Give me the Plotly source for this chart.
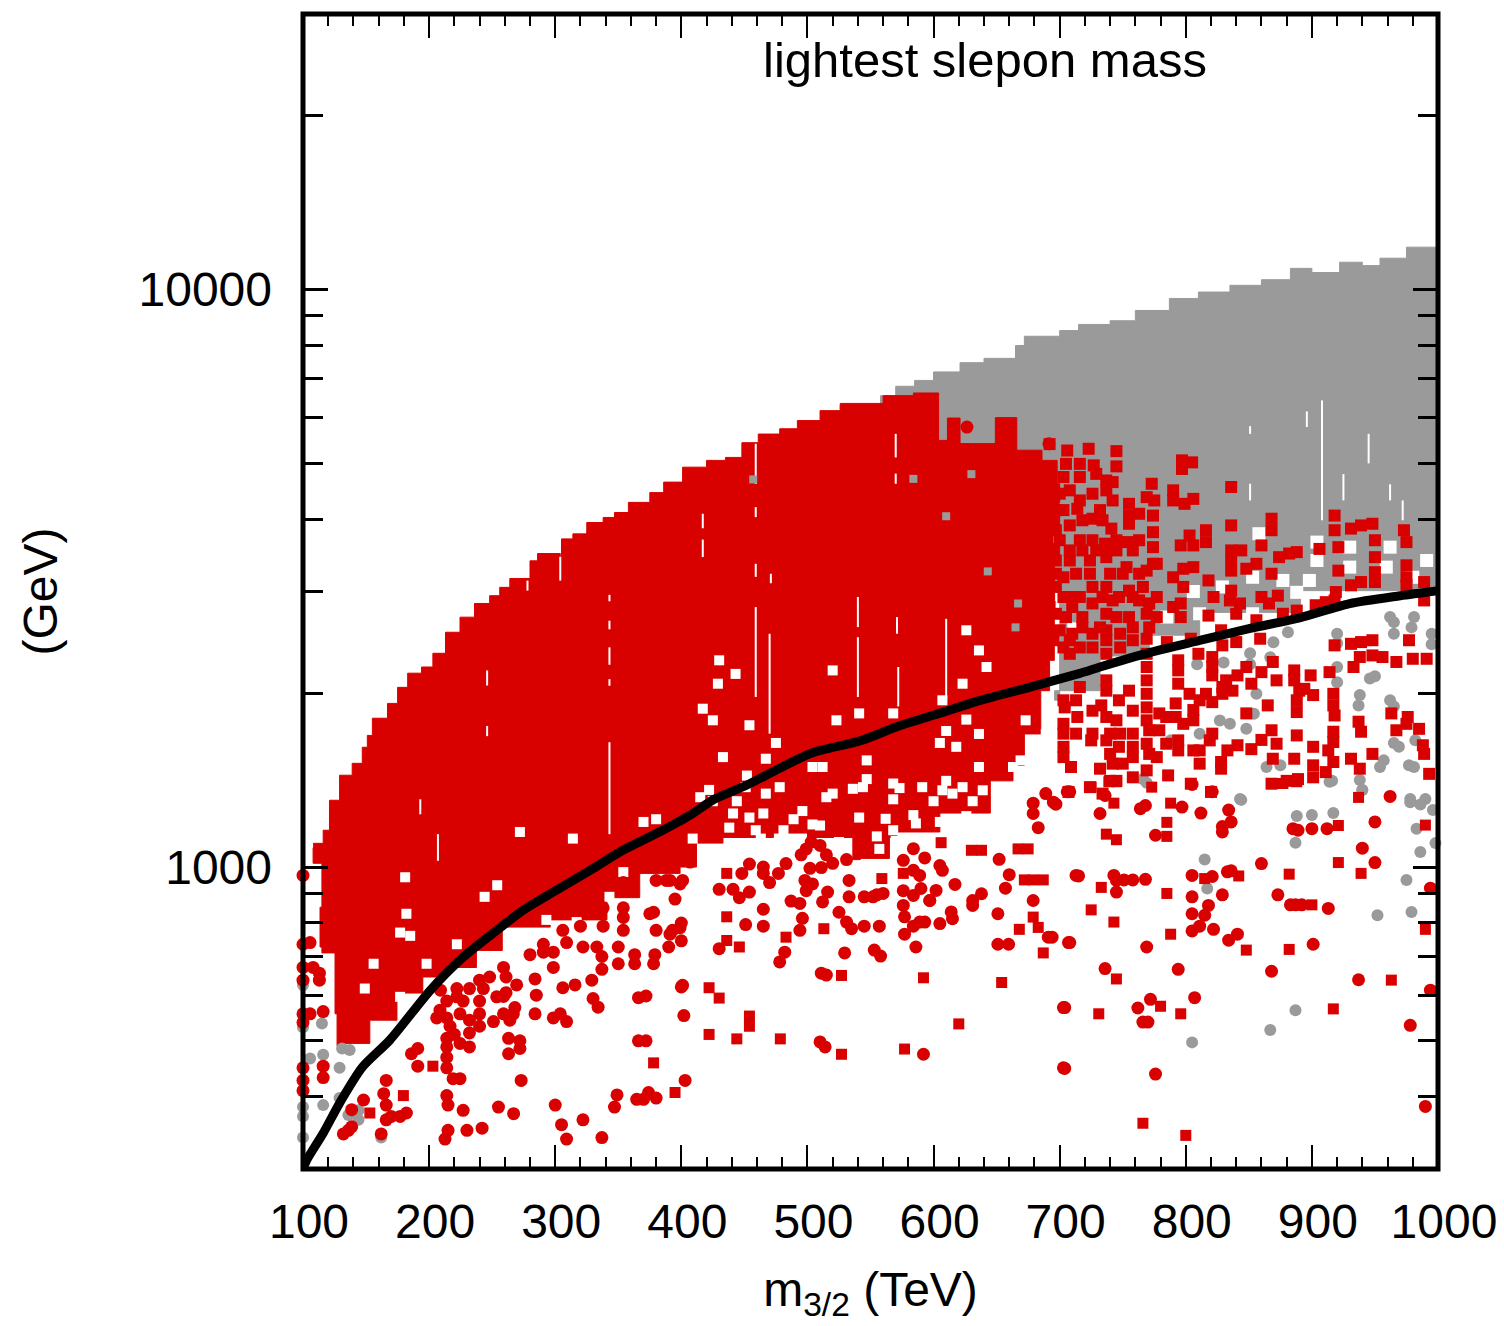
import plotly.graph_objects as go

RED = "#d90000"
GRAY = "#9a9a9a"

# --- black curve ---
curve_x = [100,103,116,129,147,169,201,227,254,274.5,301,328,354,381,407,425,452,478,504,542,573,605,637,676,716,732,772,811,851,891,930,970,1000]
curve_y = [300,311,346,390,450,502,612,698,778,842,912,988,1070,1145,1230,1306,1387,1483,1577,1654,1756,1846,1943,2047,2165,2220,2353,2468,2589,2704,2859,2950,3010]

# --- outline of the saturated gray band ---
gray_band_x = [526,558,570,585,600,621,640,665,672,700,715,740,760,787,810,835,860,883,900,922,940,954,975,1000,1000,891,811,771,732,696,700,620,526]
gray_band_y = [6300,6550,6800,6960,7200,7470,7600,8000,8300,8490,8700,8830,9200,9650,9900,10170,10400,10880,10700,11150,11000,11330,11840,11840,3010,2760,2520,2320,2020,1945,3000,5000,6300]

# --- outline of the saturated red band ---
red_band_x = [108,116,121,129,139,147,151,155,167,175,183,194,203,213,224.5,236,248,256,264,280,286,304,305,314,325,338,347,358,375,386,401,420,435,448,461,478,492,510,526,560,584,604,604,611,611,619.5,621,631,649,663,666,686,698,700,696,692,685,672,663,645,605,571,565,542,536,500,473,433,412,399,367,341,296,258,237.5,214,195,174.5,153,129,127,125.4,115,113.5,115,108]
red_band_y = [1099,1158,1305,1442,1512,1612,1690,1810,1920,2047,2166,2220,2345,2550,2708,2860,2950,3050,3160,3390,3490,3445,3700,3775,3950,4030,4110,4280,4450,4640,4925,5060,5120,5430,5620,5740,5930,6170,6350,6550,6620,6170,5480,5410,5990,5990,5410,5410,6000,6000,5270,5060,4610,3390,2280,2020,1700,1500,1410,1240,1150,1125,1035,1030,1125,1145,1125,1100,1000,975,885,810,787,717,670,645,605,543,495,490,557,710,727,852,1015,1080]

# --- unpopulated pockets inside the bands ---
hole_x = [584,586,515,496,478,525,425,415,444,467,465,544,568,631,615,600,663,652,650,626,605,562,555,557,570,409,438,510,481,459,
          454,475,467,636,626,607,610,623,642,695,697,710,626,636,673,689,547,573,610,512,523,541,568,425,417,433,452,422,605,705,663,636,618,689,504,547,520,429,443,520,430,
          181,182,185,177,222,254,244,198,156,149,177,343,354,317,301,293,370,380,272,314,
          441,451,454,463,489,504,536,541,568,568,607,591,623,639,639,663,676,692,669]
hole_y = [1230,1190,1321,1250,1375,1105,1300,1321,1300,1340,1238,1375,1395,1300,1340,1300,1238,1358,1158,1225,1197,1212,1130,1075,1110,1120,1170,1180,1158,1158,
          1760,1640,1540,2372,2570,1944,1720,2077,2220,2470,2745,2600,1800,1700,1795,1700,1420,1370,1410,1490,1795,1845,1845,1795,1880,1550,1440,1360,1640,1375,1490,1490,1615,1410,1490,1530,1340,2077,2160,2190,2280,
          960,830,760,770,735,930,888,680,680,616,596,888,980,803,777,810,1197,1210,1150,1120,
          1238,1375,1218,1120,1210,1185,1366,1218,1310,1158,1358,1375,1375,1358,1197,1321,1375,1412,1530]

# --- larger pockets where the gray band breaks up near the curve ---
big_hole_x = [829,853,877,888,904,898,930,930,959,962,991,980,806,785,811,853,858,898,956,904]
big_hole_y = [3055,3175,3135,2990,3395,3135,3306,3580,3306,3580,3395,3175,3000,2709,2745,2745,3777,2860,2895,3653]

# --- thin vertical gaps (value pairs, None between) ---
gap_x = [459,459,None,540,540,None,540,540,None,470,470,None,610,610,None,572,572,None,571,571,None,697,697,None,459,459,None,459,459,None,471,471,None,417,417,None,417,417,None,459,459,None,570,570,None,570,570,None,
         343,343,None,343,343,None,343,343,None,343,343,None,343,343,None,304,304,None,246,246,None,246,246,None,278,278,None,207,207,None,193,193,None,
         908,908,None,925,925,None,962,962,None,945,945,None,896,896,None,851,851,None,972,972,None,851,851]
gap_y = [2819,1970,None,2935,2603,None,2500,1970,None,2535,1702,None,2690,1944,None,2220,1897,None,2709,2535,None,2819,2220,None,4200,4035,None,3350,3180,None,3220,3100,None,4090,3860,None,3690,3441,None,5406,4609,None,5625,5120,None,4800,4609,None,
         2960,2885,None,2670,2580,None,2401,2240,None,2115,2060,None,1645,1140,None,3445,3133,None,2190,2062,None,1755,1685,None,3133,3010,None,1140,1025,None,1310,1234,None,
         6427,3985,None,4790,4313,None,4600,4313,None,5625,5000,None,6150,5780,None,4610,4313,None,4313,3985,None,5800,5625]

# --- gray points ---
gray_x = [920,920,962,965,965,981,979,995,995,869.5,867,881,851,851,830,809,856,854,835,827,848,811,788,962,965,938,937,965,969,982,977,981,957,954,946,950,920,920,864,875,914,938,940,843,978,990,766,
          769,844,888,900,917,887,940,916,978,986,996,983,986,998,975,979,952,815,817,887,867,805,
          115,105.6,116,131,137,129,129,116,144,144,136,100,100,100,162,100,100]
gray_y = [2535,2440,2709,2655,2535,2709,2600,2535,2430,2450,2309,2550,2345,2245,2260,2245,1996,1843,1771,1794,1736,1702,1657,1944,1897,1985,1905,1640,1615,1657,1500,1490,1530,1490,2120,2140,2090,2220,1490,1500,1405,1415,1360,1312,1312,1312,1420,
          1400,1307,1226,1230,1240,1102,1360,1410,1295,1283,1255,1165,1062,1100,950,836,825,1030,918,565,522,497,
          536,466,473,485,482,449,398,387,379,365,372,384,370,340,340,625,528]

# --- small gray patches showing through the red band ---
gray_patch_x = [457,584,630,703,698,643,667,665,610]
gray_patch_y = [4690,4700,4790,4200,3700,3250,2860,2600,4050]

# --- red points, right part of the band ---
red_right_x = [692,706,723,745,745,797,805,797,836,705,716,727,703,716,729,737,742,708,716,714,726,737,742,755,755,755,763,773,775,769,774,790,790,799,806,
               697,708,718,726,734,741,754,738,736,774,774,774,803,796,806,816,816,836,868,868,860,906,918,918,921,931,939,948,950,950,973,975,975,975,975,950,950,931,939,921,919,918,989,989,
               836,844,836,836,848,856,868,874,882,888,798,806,790,818,798,822,790,796,796,836,835,843,840,818,860,873,866,856,877,888,903,911,828,859,785,804,829,840,
               810,794,794,794,821,821,821,848,860,869,852,841,832,837,829,872,886,886,899,914,918,931,939,948,977,948,956,967,980,991,938,933,917,917,918,890,901,894,888,888,865,848,963,976,967,975,985,937,939,917,917,913,917,911,888,868,872,860,852,841,833,828,828,901,948,988,989,931,938,886,901,901,869,868,880,889,993,804,786,820,
               697,708,724,737,740,753,769,777,703,716,726,737,755,766,771,763,726,742,697,692,697,710,737,755,769,700,710,726,737,748,758,769,703,716,726,748,
               737,737,716,703,704,733,737,755,769,769,769,769,779,769,779,771,792,803,816,829,806,806,798,821,821,740,748,737,703,703,703,713,714,725,740,742,750,769,771,777,758,758,769,740,734,745,709,732,794,794,811,811,806,819,724,707,
               708,718,729,745,758,697,713,724,750,763,703,710,734,747,758,777,705,718,745,777,718,732,758,771,695,708,737,708,737,769,700,716,726,745,763,697,703,732,695,700,
               713,726,747,758,745,784.5,792,811,726,747,703,758,758,784.5]
red_right_y = [5400,5263,5300,5250,4940,5060,5020,4890,4550,4990,4990,4960,4735,4735,4795,4670,4640,4490,4313,4172,4430,4490,4313,4255,4060,3930,4090,4609,4313,4370,4060,4490,4313,4255,4340,
               3830,3904,3985,4010,3985,3855,3653,3580,3630,3800,3580,3350,3750,3605,3605,3830,3653,3904,4010,3830,3605,3555,4060,3830,3580,3855,3904,3930,3680,3440,3830,3653,3330,3175,3075,3240,3115,3075,3115,3260,2993,2895,3115,2895,
               3534,3534,3395,3260,3285,3350,3220,3440,3490,3510,3285,3306,3175,3135,3055,2935,2820,2860,2709,3010,2895,2860,2745,2725,2935,2950,2860,2675,2745,2780,2840,2875,2570,2485,2452,2485,2420,2452,
               2340,2280,2190,2077,2310,2220,2147,2220,2175,2265,2077,2147,2105,2020,2050,2105,2190,2105,2147,2175,2420,2435,2452,2470,2470,2325,2310,2265,2294,2294,2310,2220,1995,1905,1830,2020,1985,2035,1944,1855,1905,1845,1845,1819,1725,1770,1735,1785,1715,1715,1646,1592,1520,1460,1690,1725,1635,1660,1600,1625,1592,1520,1480,1615,1570,1625,1570,1540,1480,1540,1500,1430,1540,1394,1410,1420,1450,1394,1441,1349,
               3395,3395,3395,3440,3220,3306,3260,3350,3175,2935,3055,3055,3010,3055,2860,2895,2860,2895,3055,2820,2745,2820,2745,2709,2745,2570,2535,2535,2570,2535,2470,2485,2400,2400,2400,2400,
               2105,2020,2050,1944,1890,1905,1819,2020,2220,2105,1995,1890,1845,1795,1725,1725,1920,1995,1995,1995,1870,1795,1770,1930,1702,1702,1702,1657,1770,1702,1615,1702,1819,1657,1570,1510,1510,1635,1570,1550,1550,1430,1470,1410,1340,1410,1490,1480,1657,1592,1592,1510,1592,1657,1375,1349,
               3534,3534,3534,3534,3534,3220,3220,3220,3220,3220,2935,2935,2935,2935,2935,2935,2709,2709,2709,2709,2600,2600,2600,2600,2470,2470,2470,2340,2340,2340,3680,3680,3680,3680,3680,4150,4150,4150,4430,4430,
               1944,1865,1944,1865,1795,1819,1819,1944,1702,1615,1550,1702,1615,1635]

# --- red points, lower right, drawn as squares ---
red_sq_x = [422,430,454,454,422,444,478.5,527,527,577,620,592,654,483,436,446,668,679,683,687,672,679,687,630,638,667,675,606,576,
            725,743,737,745,739,745,773,788,785,785,870,877,888,937,921,990,921,939,882,733,725,743,785,815,842,788,848,900,882,745,963,731,780,796,917,766,800,990,
            436,559,436,513,179.6,153,203,378,395]
red_sq_y = [618,593,552,530,513,504,504,649,474,484,535,643,631,756,746,727,780,819,786,710,950,950,950,1069,1069,1075,1075,1102,975,
            1375,1290,1140,1115,1405,1405,1375,1290,1195,1130,1395,1395,1405,1320,1180,1182,1018,975,972,922,843,803,900,955,965,765,718,860,720,640,637,557,574,557,568,360,343,780,
            975,955,820,782,402,375,452,458,407]

# --- red points, drawn as round dots ---
red_dot_x = [401,510,514,592,703,703,511,515,478,482,430,529.5,553,558,586,651,659.5,691,707,679,660,657,651,652,713,631,638,631,614,615,605,602,597,617,605,607,576,593,584,589,584,
             708,695,732,736,764,768,797,776,805,821,812,834,836,829,829,962,885,889,900,912,950,940,950,860,715,743,745,751,758,768,745,708,694,805,821,833,836,805,829,818,805,815,805,811,822,769,834,841,873,883,887,892,913,901,736,794,807,868,937,704,762,772,766,770,978,704,776,990,994,994,
             100,105.6,100,100,108,113,100,113,116,105.6,100,100,100,100,100,116,116,136,132,138.6,162,164,166,166,170,177,182,148,138.6,166,186,191,191,214,219,224.5,214,215,227,215,230,242,212.6,255,267,300,305,322,309,337,273,347,349,364.6,370,374,380,403,366,372,263,272,272,263,214,220,232,214,206,366,372,334,330,402,400,309,298.5,304,284,251,259,268,264,285,284,259,269.4,306,315.7,329,337,350,337,350,363,363,379,378,390,395,378,399,391,
             448,454,454,430,441,446,465,465,470,477,483,502,511,498,504,499,494,487,516,512,533,533,545,555,552,560,465,465,451,496,494,525,531,535,545,557,577,577,589,593,584,576,576,584,590,597,531,520,510,499,503,515,495,400,400,
             626.5,691.5,
             209,222,232,240,240,224.5,232,216.6,240,214,224.5,232,214,222,208.6,240,227,214,243,248,259,261,253.6,266.8,290.6,298.5,298.5,309,322,333,338,338,354,375,354,354,391,399,407,386,
             679,679,683,689,697,706,
             354,380,388,401,380,393,354,325,320,306,290.6,280,261]
red_dot_y = [624,498,488,474,571,449,655,650,685,712,722,710,718,701,727,735,735,756,740,875,970,919,830,1031,967,875,899,858,836,814,798,911,875,933,1006,987,1027,1037,987,967,1076,
             1350,1295,1238,1330,1262,1278,1270,1135,1390,1350,1240,1255,1197,1150,1175,1325,1165,1158,1165,1165,1197,1078,1018,1014,965,967,948,950,950,952,905,740,756,967,963,981,985,888,895,858,830,825,775,790,780,727,747,765,895,860,860,860,848,735,667,665,594,660,638,571,570,590,539,539,532,448,438,385,919,612,
             967,740,735,670,670,655,637,637,562,557,557,538,449,427,410,452,432,350,345,355,345,405,427,387,370,370,375,395,380,365,475,452,485,449,430,430,402,387,379,350,350,353,338,384,374,387,358,365,338,340,427,384,403,396,396,407,398,427,500,500,475,500,485,505,505,513,488,548,548,594,598,572,592,553,620,540,548,557,557,540,557,571,543,600,640,597,625,618,625,637,665,680,700,727,705,680,705,680,727,880,835,785,765,
             975,1012,905,915,915,885,1000,975,940,975,1014,995,998,948,935,910,865,873,905,870,948,888,888,895,888,900,845,790,795,815,777,835,803,782,790,790,820,765,803,803,790,910,858,893,918,875,1030,1015,1090,1075,1105,1050,1050,800,745,
             5778,5406,
             612,596,616,637,586,557,543,530,530,488,495,516,468,616,565,557,586,586,616,645,670,645,596,557,712,670,712,740,727,727,790,850,818,830,850,925,948,935,1020,1030,
             1290,1238,1170,1340,1285,1350,
             940,948,948,948,777,777,777,830,790,777,735,705,606]

fig = go.Figure()

fig.add_trace(go.Scatter(x=gray_band_x, y=gray_band_y, mode="lines", fill="toself", fillcolor=GRAY,
                         line=dict(color=GRAY, width=1, shape="hv"), hoverinfo="skip", showlegend=False))
fig.add_trace(go.Scatter(x=red_band_x, y=red_band_y, mode="lines", fill="toself", fillcolor=RED,
                         line=dict(color=RED, width=1, shape="hv"), hoverinfo="skip", showlegend=False))
fig.add_trace(go.Scatter(x=hole_x, y=hole_y, mode="markers", showlegend=False,
                         marker=dict(color="white", size=10, symbol="square")))
fig.add_trace(go.Scatter(x=big_hole_x, y=big_hole_y, mode="markers", showlegend=False,
                         marker=dict(color="white", size=13, symbol="square")))
fig.add_trace(go.Scatter(x=gap_x, y=gap_y, mode="lines", showlegend=False, connectgaps=False,
                         line=dict(color="white", width=2)))
fig.add_trace(go.Scatter(x=gray_patch_x, y=gray_patch_y, mode="markers", showlegend=False,
                         marker=dict(color=GRAY, size=8, symbol="square")))
fig.add_trace(go.Scatter(x=gray_x, y=gray_y, mode="markers", cliponaxis=False, showlegend=False,
                         marker=dict(color=GRAY, size=12, symbol="circle")))
fig.add_trace(go.Scatter(x=red_right_x, y=red_right_y, mode="markers", cliponaxis=False, showlegend=False,
                         marker=dict(color=RED, size=12, symbol="square")))
fig.add_trace(go.Scatter(x=red_sq_x, y=red_sq_y, mode="markers", cliponaxis=False, showlegend=False,
                         marker=dict(color=RED, size=11, symbol="square")))
fig.add_trace(go.Scatter(x=red_dot_x, y=red_dot_y, mode="markers", cliponaxis=False, showlegend=False,
                         marker=dict(color=RED, size=13, symbol="circle")))
fig.add_trace(go.Scatter(x=curve_x, y=curve_y, mode="lines", cliponaxis=True, showlegend=False,
                         line=dict(color="black", width=9, shape="spline", smoothing=0.7)))

FONT = "Liberation Sans"
x_ticks = [100, 200, 300, 400, 500, 600, 700, 800, 900, 1000]
x_minor = [v for v in range(100, 1001, 20) if v % 100]
y_ticks = [1000, 10000]
y_minor = [400, 500, 600, 700, 800, 900, 2000, 3000, 4000, 5000, 6000, 7000, 8000, 9000, 20000]

fig.update_layout(
    width=1504, height=1326, autosize=False,
    margin=dict(l=302.5, r=65.7, t=13.5, b=156.5, pad=0),
    paper_bgcolor="white", plot_bgcolor="white",
    font=dict(family=FONT, size=48, color="black"),
    xaxis=dict(
        range=[100, 1000], tickmode="array", tickvals=x_ticks,
        ticks="inside", ticklen=24, tickwidth=2, tickcolor="black",
        minor=dict(tickmode="array", tickvals=x_minor, ticks="inside", ticklen=12, tickwidth=2, tickcolor="black"),
        showline=False, mirror="ticks", automargin=False,
        showgrid=False, zeroline=False, ticklabelstandoff=20, ticklabelshift=6,
        tickfont=dict(family=FONT, size=48),
        title=dict(text="m<sub>3/2</sub> (TeV)", font=dict(family=FONT, size=48), standoff=25),
    ),
    yaxis=dict(
        type="log", range=[2.4771, 4.4771], tickmode="array", tickvals=y_ticks, ticktext=["1000", "10000"],
        ticks="inside", ticklen=25, tickwidth=3, tickcolor="black",
        minor=dict(tickmode="array", tickvals=y_minor, ticks="inside", ticklen=20, tickwidth=3, tickcolor="black"),
        showline=False, mirror="ticks", automargin=False,
        showgrid=False, zeroline=False, ticklabelstandoff=30,
        tickfont=dict(family=FONT, size=48),
        title=dict(text="(GeV)", font=dict(family=FONT, size=48), standoff=65),
    ),
    shapes=[dict(type="rect", xref="paper", yref="paper", x0=0, x1=1, y0=0, y1=1,
                 line=dict(color="black", width=5), layer="above")],
    annotations=[dict(text="lightest slepon mass", xref="paper", yref="paper", x=0.601, y=0.96,
                      xanchor="center", yanchor="middle", showarrow=False,
                      font=dict(family=FONT, size=49, color="black"))],
)

fig.write_html("out.html", post_script="document.body.style.margin='0';", config=dict(displayModeBar=False))
